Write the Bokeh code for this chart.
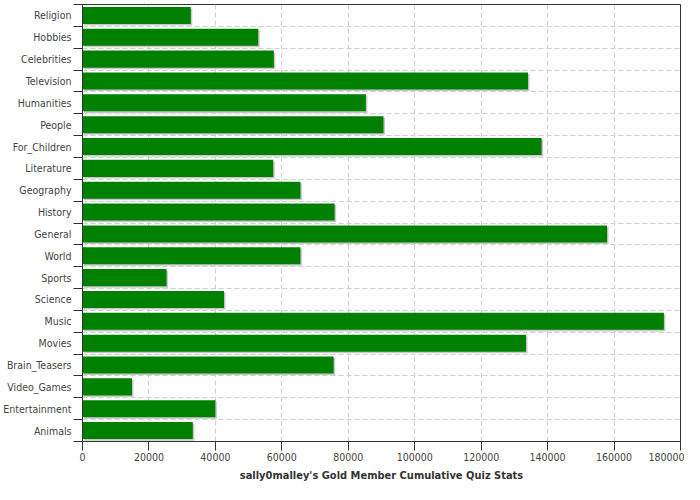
from bokeh.plotting import figure
from bokeh.models import Range1d, FixedTicker, BasicTickFormatter
from bokeh.embed import file_html
from bokeh.resources import INLINE

categories = ["Religion", "Hobbies", "Celebrities", "Television", "Humanities", "People",
              "For_Children", "Literature", "Geography", "History", "General", "World",
              "Sports", "Science", "Music", "Movies", "Brain_Teasers", "Video_Games",
              "Entertainment", "Animals"]
values = [32600, 52900, 57600, 134100, 85300, 90600, 138200, 57400, 65600, 75900,
          157900, 65600, 25300, 42600, 175000, 133500, 75600, 14900, 40000, 33200]
x_ticks = [0, 20000, 40000, 60000, 80000, 100000, 120000, 140000, 160000, 180000]
title_text = "sally0malley's Gold Member Cumulative Quiz Stats"

n = len(categories)
ypos = [n - 1 - i for i in range(n)]
bounds = [k - 0.5 for k in range(n + 1)]

FONT = "DejaVu Sans Condensed, DejaVu Sans, sans-serif"
GRID = "#c8d0d8"
AX = "#333333"

p = figure(width=684, height=484, output_backend="svg", toolbar_location=None,
           x_range=Range1d(0, 180000), y_range=Range1d(-0.5, n - 0.5),
           min_border_left=0, min_border_right=4, min_border_top=4, min_border_bottom=0)
p.background_fill_color = "white"
p.border_fill_color = "white"
p.outline_line_color = AX
p.outline_line_width = 1

# shadows (offset ~1.5px right and down)
sx = 450
sy = 0.07
p.hbar(y=[v - sy for v in ypos], left=sx, right=[v + sx for v in values], height=0.78,
       fill_color="#c8c8c8", line_color=None)
p.hbar(y=ypos, left=0, right=values, height=0.78, fill_color="#008000", line_color=None)

# y axis: labels at centers, tick marks at boundaries
p.yaxis.ticker = FixedTicker(ticks=ypos, minor_ticks=bounds)
p.yaxis.major_label_overrides = {y: c for y, c in zip(ypos, categories)}
p.yaxis.major_tick_line_color = None
p.yaxis.major_tick_out = 9
p.yaxis.major_tick_in = 0
p.yaxis.minor_tick_out = 9
p.yaxis.minor_tick_in = 0
p.yaxis.minor_tick_line_color = AX
p.yaxis.major_label_standoff = 2
p.yaxis.axis_line_color = AX
p.yaxis.major_label_text_font = FONT
p.yaxis.major_label_text_font_size = "10.5px"
p.yaxis.major_label_text_color = "#444444"

p.xaxis.ticker = FixedTicker(ticks=x_ticks)
p.xaxis.formatter = BasicTickFormatter(use_scientific=False)
p.xaxis.major_tick_out = 9
p.xaxis.major_tick_in = 0
p.xaxis.minor_tick_line_color = None
p.xaxis.major_tick_line_color = AX
p.xaxis.axis_line_color = AX
p.xaxis.major_label_standoff = 2
p.xaxis.major_label_text_font = FONT
p.xaxis.major_label_text_font_size = "10.5px"
p.xaxis.major_label_text_color = "#444444"
p.xaxis.axis_label = title_text
p.xaxis.axis_label_text_font = FONT
p.xaxis.axis_label_text_font_style = "bold"
p.xaxis.axis_label_text_font_size = "11px"
p.xaxis.axis_label_text_color = "#333333"
p.xaxis.axis_label_standoff = 5

p.xgrid.grid_line_color = GRID
p.xgrid.grid_line_dash = "5 3"
p.ygrid.grid_line_color = None
p.ygrid.minor_grid_line_color = GRID
p.ygrid.minor_grid_line_dash = "5 3"

open("out.html", "w").write(file_html(p, INLINE))
